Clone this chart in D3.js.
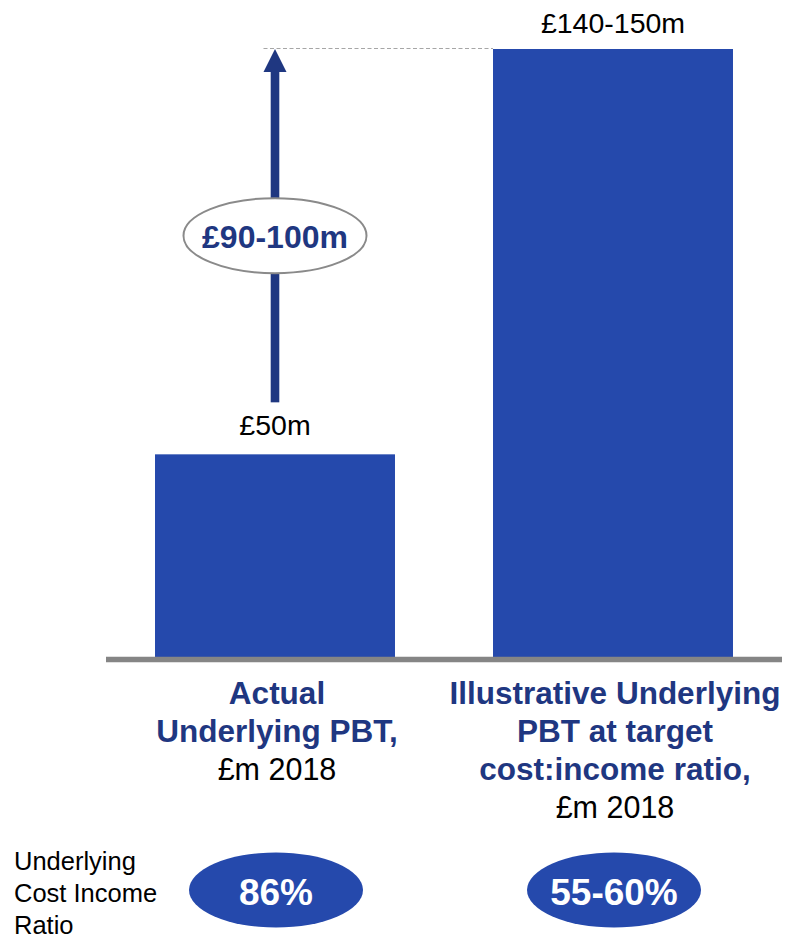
<!DOCTYPE html>
<html>
<head>
<meta charset="utf-8">
<script src="https://cdn.jsdelivr.net/npm/d3@7"></script>
<style>
  html, body { margin: 0; padding: 0; background: #ffffff; }
  svg { display: block; font-family: "Liberation Sans", Arial, sans-serif; }
</style>
</head>
<body>
<svg id="chart" width="787" height="939"></svg>
<script>
// Underlying profit before tax, £m (2018): low and high ends of each figure
const categories = ["actual", "illustrative"];
const pbtLow = [50, 140];
const pbtHigh = [50, 150];
// Category captions: bold lines followed by the unit line
const captionBold = [
  ["Actual", "Underlying PBT,"],
  ["Illustrative Underlying", "PBT at target", "cost:income ratio,"]
];
const captionUnit = ["£m 2018", "£m 2018"];
// Underlying cost income ratio shown under each bar
const ratioTitle = ["Underlying", "Cost Income", "Ratio"];
const ratioLabels = ["86%", "55-60%"];

const barColor = "#2549ac";
const navy = "#1f3781";
const svg = d3.select("#chart");

const x = d3.scaleBand()
  .domain(categories)
  .range([106, 782])
  .paddingInner(0.29)
  .paddingOuter(0.145);

const y = d3.scaleLinear()
  .domain([0, 150])
  .range([657, 49]);

const rangeText = (lo, hi) => lo === hi ? `£${lo}m` : `£${lo}-${hi}m`;

// Bars
svg.append("g")
  .selectAll("rect")
  .data(categories)
  .join("rect")
  .attr("x", d => x(d))
  .attr("y", (d, i) => y(pbtHigh[i]))
  .attr("width", x.bandwidth())
  .attr("height", (d, i) => y(0) - y(pbtHigh[i]))
  .attr("fill", barColor);

// Baseline
svg.append("line")
  .attr("x1", x.range()[0]).attr("x2", x.range()[1])
  .attr("y1", y(0) + 2.5).attr("y2", y(0) + 2.5)
  .attr("stroke", "#858585")
  .attr("stroke-width", 5.5);

// Value labels above bars
svg.append("g")
  .selectAll("text")
  .data(categories)
  .join("text")
  .attr("x", d => x(d) + x.bandwidth() / 2)
  .attr("y", (d, i) => y(pbtHigh[i]) - (i === 0 ? 19 : 16))
  .attr("text-anchor", "middle")
  .attr("font-size", 28.5)
  .attr("fill", "#000")
  .text((d, i) => rangeText(pbtLow[i], pbtHigh[i]));

// Uplift arrow from the actual figure up to the target level
const ax = x(categories[0]) + x.bandwidth() / 2;
const tipY = y(pbtHigh[1]);
const baseY = y(pbtHigh[0]) - 52;
const headH = 23, headW = 23, shaftW = 8.6;

svg.append("line")
  .attr("x1", ax - headW / 2).attr("x2", x(categories[1]))
  .attr("y1", tipY - 0.5).attr("y2", tipY - 0.5)
  .attr("stroke", "#a6a6a6")
  .attr("stroke-width", 1.2)
  .attr("stroke-dasharray", "4,2.5");

svg.append("rect")
  .attr("x", ax - shaftW / 2)
  .attr("y", tipY + headH - 1)
  .attr("width", shaftW)
  .attr("height", baseY - (tipY + headH - 1))
  .attr("fill", navy);

svg.append("path")
  .attr("d", d3.line()([[ax, tipY], [ax + headW / 2, tipY + headH], [ax - headW / 2, tipY + headH]]) + "Z")
  .attr("fill", navy);

// Uplift callout
const cy = (tipY + baseY) / 2 + 10;
svg.append("ellipse")
  .attr("cx", ax).attr("cy", cy)
  .attr("rx", 91.5).attr("ry", 37.5)
  .attr("fill", "#fff")
  .attr("stroke", "#8a8a8a")
  .attr("stroke-width", 2);

svg.append("text")
  .attr("x", ax).attr("y", cy + 12)
  .attr("text-anchor", "middle")
  .attr("font-size", 32)
  .attr("font-weight", "bold")
  .attr("fill", navy)
  .text(rangeText(pbtLow[1] - pbtLow[0], pbtHigh[1] - pbtHigh[0]));

// Category captions under the axis
const capStep = 38;
categories.forEach((c, i) => {
  const cx = x(c) + x.bandwidth() / 2 + 2;
  const t = svg.append("text")
    .attr("x", cx)
    .attr("y", 704)
    .attr("text-anchor", "middle")
    .attr("font-size", 31.5);
  captionBold[i].forEach((line, j) => {
    t.append("tspan")
      .attr("x", cx)
      .attr("dy", j === 0 ? 0 : capStep)
      .attr("font-weight", "bold")
      .attr("fill", navy)
      .text(line);
  });
  t.append("tspan")
    .attr("x", cx)
    .attr("dy", capStep)
    .attr("font-size", 30.5)
    .attr("fill", "#000")
    .text(captionUnit[i]);
});

// Cost income ratio row
const rt = svg.append("text")
  .attr("x", 14).attr("y", 870)
  .attr("font-size", 25.5)
  .attr("fill", "#000");
ratioTitle.forEach((line, j) => {
  rt.append("tspan").attr("x", 14).attr("dy", j === 0 ? 0 : 32).text(line);
});

const ratio = svg.append("g")
  .selectAll("g")
  .data(categories)
  .join("g")
  .attr("transform", d => `translate(${x(d) + x.bandwidth() / 2 + 1},890)`);

ratio.append("ellipse")
  .attr("rx", 87).attr("ry", 37.5)
  .attr("fill", barColor);

ratio.append("text")
  .attr("y", 15)
  .attr("text-anchor", "middle")
  .attr("font-size", 37)
  .attr("font-weight", "bold")
  .attr("fill", "#fff")
  .text((d, i) => ratioLabels[i]);
</script>
</body>
</html>
